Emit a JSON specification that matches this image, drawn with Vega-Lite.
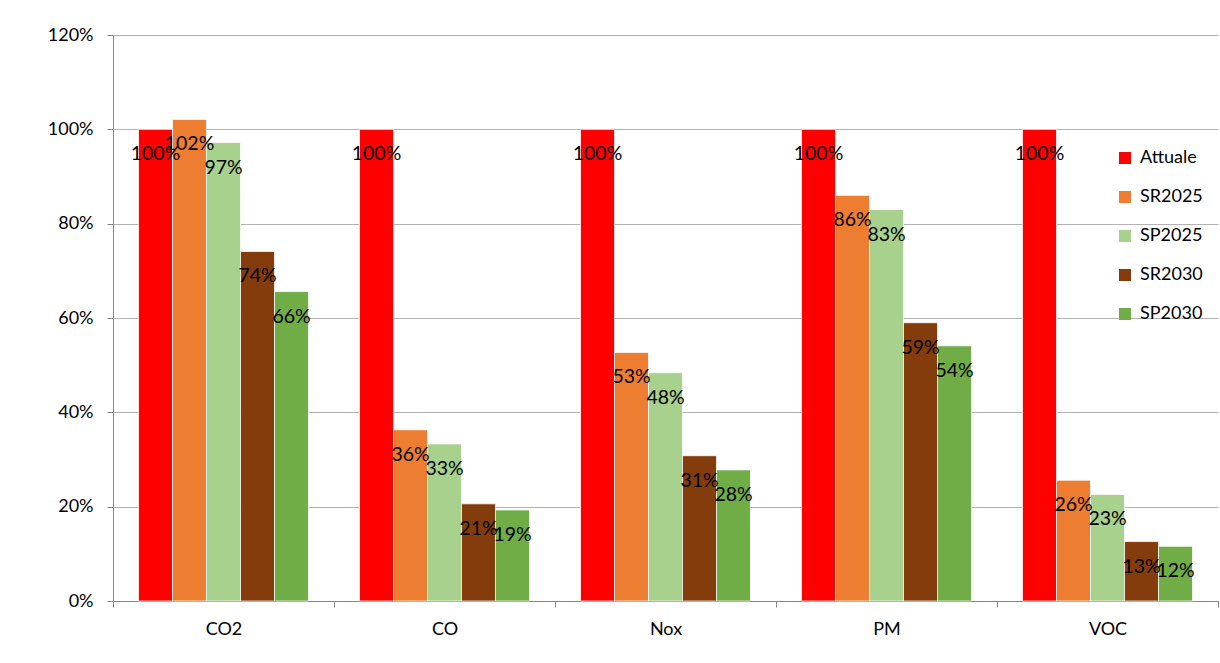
{
  "$schema": "https://vega.github.io/schema/vega-lite/v6.json",
  "autosize": {"type": "none"},
  "width": 1105,
  "height": 566,
  "padding": {"left": 113, "top": 35, "right": 2, "bottom": 62},
  "background": "#ffffff",
  "config": {
    "view": {"stroke": null},
    "font": "Lato",
    "axis": {"labelFont": "Lato", "labelFontSize": 18, "labelColor": "#000000", "domainColor": "#868686", "tickColor": "#868686", "tickSize": 6, "gridColor": "#b3b3b3", "gridWidth": 1}
  },
  "data": {
    "values": [
      {"pollutant": "CO2", "scenario": "Attuale", "value": 1.0},
      {"pollutant": "CO2", "scenario": "SR2025", "value": 1.021},
      {"pollutant": "CO2", "scenario": "SP2025", "value": 0.972},
      {"pollutant": "CO2", "scenario": "SR2030", "value": 0.741},
      {"pollutant": "CO2", "scenario": "SP2030", "value": 0.656},
      {"pollutant": "CO", "scenario": "Attuale", "value": 1.0},
      {"pollutant": "CO", "scenario": "SR2025", "value": 0.363},
      {"pollutant": "CO", "scenario": "SP2025", "value": 0.333},
      {"pollutant": "CO", "scenario": "SR2030", "value": 0.206},
      {"pollutant": "CO", "scenario": "SP2030", "value": 0.193},
      {"pollutant": "Nox", "scenario": "Attuale", "value": 1.0},
      {"pollutant": "Nox", "scenario": "SR2025", "value": 0.527},
      {"pollutant": "Nox", "scenario": "SP2025", "value": 0.484},
      {"pollutant": "Nox", "scenario": "SR2030", "value": 0.308},
      {"pollutant": "Nox", "scenario": "SP2030", "value": 0.278},
      {"pollutant": "PM", "scenario": "Attuale", "value": 1.0},
      {"pollutant": "PM", "scenario": "SR2025", "value": 0.86},
      {"pollutant": "PM", "scenario": "SP2025", "value": 0.83},
      {"pollutant": "PM", "scenario": "SR2030", "value": 0.59},
      {"pollutant": "PM", "scenario": "SP2030", "value": 0.541},
      {"pollutant": "VOC", "scenario": "Attuale", "value": 1.0},
      {"pollutant": "VOC", "scenario": "SR2025", "value": 0.256},
      {"pollutant": "VOC", "scenario": "SP2025", "value": 0.226},
      {"pollutant": "VOC", "scenario": "SR2030", "value": 0.126},
      {"pollutant": "VOC", "scenario": "SP2030", "value": 0.116}
    ]
  },
  "encoding": {
    "x": {
      "field": "pollutant", "type": "nominal", "sort": ["CO2", "CO", "Nox", "PM", "VOC"],
      "scale": {"paddingInner": 0, "paddingOuter": 0},
      "axis": {"title": null, "labelAngle": 0, "tickBand": "extent", "labelPadding": 13, "grid": false}
    },
    "xOffset": {
      "field": "scenario", "type": "nominal", "sort": ["Attuale", "SR2025", "SP2025", "SR2030", "SP2030"],
      "scale": {"paddingInner": 0, "paddingOuter": 0.75}
    },
    "y": {
      "field": "value", "type": "quantitative",
      "scale": {"domain": [0, 1.2], "nice": false},
      "axis": {"title": null, "format": ".0%", "values": [0, 0.2, 0.4, 0.6, 0.8, 1.0, 1.2], "grid": true, "labelPadding": 14}
    }
  },
  "layer": [
    {
      "mark": {"type": "bar", "stroke": "#ffffff", "strokeWidth": 0.75},
      "encoding": {
        "color": {
          "field": "scenario", "type": "nominal",
          "scale": {"domain": ["Attuale", "SR2025", "SP2025", "SR2030", "SP2030"], "range": ["#FF0000", "#ED7D31", "#A9D18E", "#843C0C", "#70AD47"]},
          "legend": {"title": null, "orient": "none", "legendX": 1003, "legendY": 114, "symbolType": "square", "symbolSize": 144, "symbolStrokeWidth": 0, "labelFont": "Lato", "labelFontSize": 18, "labelColor": "#000000", "labelOffset": 6, "rowPadding": 21, "padding": 0}
        }
      }
    },
    {
      "mark": {"type": "text", "dy": 25, "baseline": "middle", "align": "center", "fontSize": 19.5, "font": "Lato", "color": "#000000"},
      "encoding": {"text": {"field": "value", "type": "quantitative", "format": ".0%"}}
    }
  ]
}
